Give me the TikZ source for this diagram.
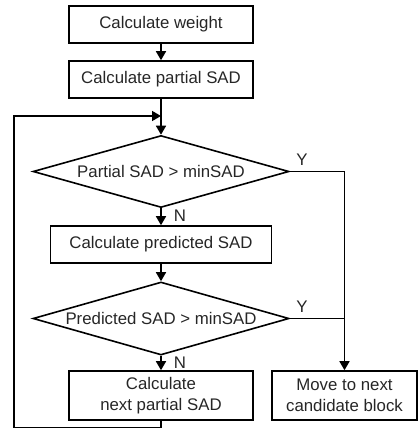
\documentclass[tikz,border=0pt]{standalone}
\usepackage{fontspec}
\setmainfont{Liberation Sans}
\usetikzlibrary{shapes.geometric,arrows.meta}
\begin{document}
\begin{tikzpicture}[x=1pt,y=-1pt,
  every node/.style={font=\fontsize{16.8}{21}\selectfont, text=black!85},
  procbox/.style={draw, line width=1.6pt, rectangle, inner sep=0pt, align=center},
  decbox/.style={draw, line width=1.6pt, diamond, aspect=3.5, inner sep=0pt},
  conn/.style={line width=1.6pt, -{Triangle[length=9pt,width=10pt]}},
  plain/.style={line width=1.6pt},
  lbl/.style={inner sep=0pt}]
\useasboundingbox (0,0) rectangle (418,429);
\node[procbox, minimum width=184pt, minimum height=37pt] (w) at (161,24.5) {Calculate weight};
\node[procbox, minimum width=184pt, minimum height=37pt] (p) at (161,79.5) {Calculate partial SAD};
\node[decbox, minimum width=256pt, minimum height=72pt] (d1) at (161,171.5) {\makebox[0pt]{Partial SAD > minSAD}};
\node[procbox, minimum width=221pt, minimum height=37pt] (pr) at (161,244.5) {Calculate predicted SAD};
\node[decbox, minimum width=256pt, minimum height=73pt] (d2) at (161,318.5) {\makebox[0pt]{Predicted SAD > minSAD}};
\node[procbox, minimum width=184pt, minimum height=49pt] (nx) at (161,395.5) {Calculate\\next partial SAD};
\node[procbox, minimum width=145pt, minimum height=49pt] (mv) at (344.5,395.5) {Move to next\\candidate block};
\coordinate (j) at (161,116);
\coordinate (r1) at (344.5,171.5);
\coordinate (r2) at (344.5,318.5);
\coordinate (b1) at (161,427.5);
\coordinate (b2) at (14,427.5);
\coordinate (b3) at (14,116);
\draw[conn] (w.south) -- (p.north);
\draw[conn] (p.south) -- (d1.north);
\draw[conn] (d1.south) -- (pr.north);
\draw[conn] (pr.south) -- (d2.north);
\draw[conn] (d2.south) -- (nx.north);
\draw[conn] (d1.east) -- (r1) -- (mv.north);
\draw[plain] (d2.east) -- (r2);
\draw[conn] (nx.south) -- (b1) -- (b2) -- (b3) -- (j);
\node[lbl] (y1) at (302,160) {Y};
\node[lbl] (y2) at (302,307) {Y};
\node[lbl] (n1) at (180,216) {N};
\node[lbl] (n2) at (180,363) {N};
\end{tikzpicture}
\end{document}
